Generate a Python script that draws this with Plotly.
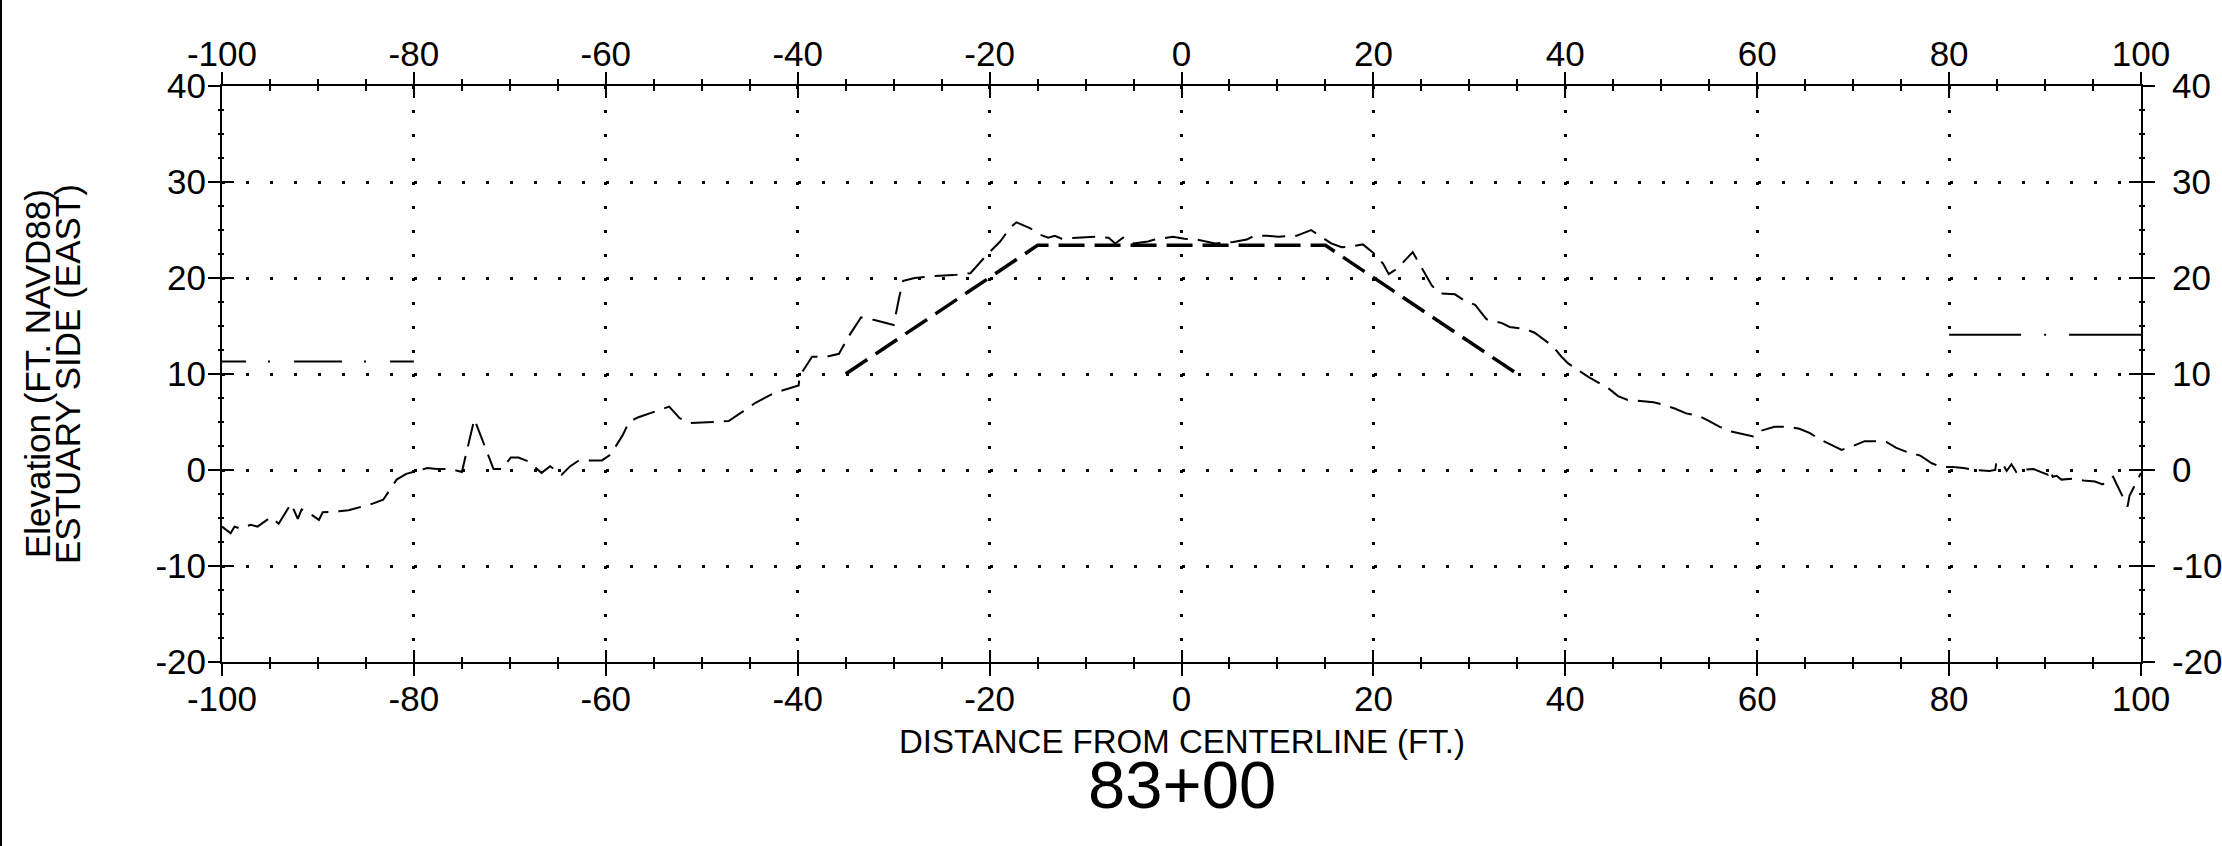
import plotly.graph_objects as go

# ---------------- data ----------------
ground_x = [
    -100, -99.1, -98.7, -98.1, -97.0, -96.3, -94.9, -94.1, -92.8, -92.1, -91.7, -90.9, -89.9, -89.5,
    -87.8, -86.8, -84.3, -83.2, -81.8, -80.8, -79.7, -78.6, -77.6, -76.2, -75.0, -73.7, -71.7, -70.8,
    -69.9, -69.1, -68.1, -66.7, -65.8, -64.6, -63.7, -62.8, -60.4,
    -59.5, -58.2, -57.6, -56.6, -55.5, -53.4, -52.3, -51.2, -48.8, -47.2, -45.7, -44.4, -42.5, -41.1,
    -39.9, -39.8, -39.1, -38.5, -37.0, -35.7, -34.7, -33.4, -31.9, -30.0, -29.4, -29.0, -27.8, -25.9,
    -23.8, -22.0, -20.3,
    -18.9, -17.8, -17.2, -15.8, -14.7, -13.9, -13.2, -12.5, -11.2, -8.9, -7.6, -6.9, -6.1, -5.0, -3.5,
    -2.8, -0.9, 0.3, 1.6, 3.5, 5.4, 6.8, 7.6, 8.9, 10.1, 12.0, 12.5, 13.5, 15.6, 16.7, 17.7, 18.9,
    20.0, 21.0, 21.6, 22.5, 24.1, 24.8, 26.1, 26.9, 28.5, 29.4, 30.6, 31.8, 33.4, 34.2, 35.8, 36.8,
    38.7, 39.6, 40.3, 41.2, 42.4, 44.5, 45.5, 46.5, 47.8, 49.2, 50.2, 51.4, 52.6, 54.0, 55.0, 56.1,
    57.3, 58.4, 59.6,
    60.1, 61.0, 61.8, 63.1, 64.4, 65.5, 66.5, 68.8, 70.0, 71.2, 72.3, 73.5, 74.5, 75.8, 77.0, 78.2,
    79.2, 80.4, 81.5, 82.8, 84.2, 84.8, 84.9, 85.5, 86.0, 86.5, 87.0, 87.5, 88.8, 89.8, 90.3, 90.5,
    90.8, 91.2, 91.7, 92.9, 94.0, 95.2, 96.0, 96.7, 97.1, 97.4, 98.6, 98.8, 99.5, 100,
]
ground_y = [
    -5.9, -6.6, -5.9, -6.1, -5.7, -5.9, -4.9, -5.6, -3.5, -5.1, -4.1, -4.5, -5.2, -4.4,
    -4.3, -4.2, -3.5, -3.1, -1.0, -0.4, -0.1, 0.2, 0.1, 0.1, -0.2, 5.3, 0.1, 0.1,
    1.3, 1.3, 0.9, -0.3, 0.4, -0.5, 0.4, 1.0, 1.0,
    1.6, 3.7, 5.0, 5.5, 5.9, 6.6, 5.4, 4.9, 5.0, 5.1, 6.1, 7.0, 8.0, 8.4,
    8.8, 9.8, 10.9, 11.8, 11.8, 12.1, 13.9, 15.9, 15.6, 15.1, 18.1, 19.7, 20.0, 20.2,
    20.3, 20.5, 22.4,
    23.8, 25.3, 25.8, 25.2, 24.5, 24.2, 24.4, 24.1, 24.2, 24.3, 24.2, 23.6, 24.2, 23.6, 23.8,
    24.0, 24.3, 24.1, 24.0, 23.6, 23.75, 24.0, 24.4, 24.4, 24.3, 24.4, 24.6, 25.0, 23.6, 23.2, 23.3, 23.5,
    22.6, 21.5, 20.4, 21.0, 22.7, 21.5, 19.2, 18.4, 18.3, 17.7, 17.2, 15.7, 15.3, 14.9, 14.7, 14.3,
    12.9, 11.8, 11.1, 10.5, 9.7, 8.5, 7.7, 7.3, 7.2, 7.05, 6.8, 6.4, 5.9, 5.6, 5.1, 4.5,
    4.0, 3.75, 3.5,
    4.0, 4.3, 4.5, 4.5, 4.3, 3.85, 3.2, 2.1, 2.5, 3.0, 3.0, 2.9, 2.3, 1.8, 1.5, 0.7,
    0.3, 0.3, 0.2, 0.0, -0.1, 0.0, 0.6, 0.8, -0.1, 0.6, -0.2, 0.0, 0.1, -0.3, -0.5, 0.0,
    -0.7, -0.6, -1.0, -0.9, -1.1, -1.2, -1.5, -1.0, -0.7, -1.35, -3.8, -2.7, -1.2, -0.3,
]
assert len(ground_x) == len(ground_y)

design_x = [-35, -15, 15, 35]
design_y = [10, 23.4, 23.4, 10]

water_left_x = [-100, -80]
water_left_y = [11.3, 11.3]
water_right_x = [80, 100]
water_right_y = [14.1, 14.1]

x_tick_vals = [-100, -80, -60, -40, -20, 0, 20, 40, 60, 80, 100]
x_tick_text = ["-100", "-80", "-60", "-40", "-20", "0", "20", "40", "60", "80", "100"]
y_tick_vals = [-20, -10, 0, 10, 20, 30, 40]
y_tick_text = ["-20", "-10", "0", "10", "20", "30", "40"]

x_title = "DISTANCE FROM CENTERLINE (FT.)"
y_title_line1 = "Elevation (FT. NAVD88)"
y_title_line2 = "ESTUARY SIDE (EAST)"
station = "83+00"

# ---------------- figure ----------------
FONT = "Liberation Sans, Arial, sans-serif"
W, H = 2222, 846
ML, MR, MT, MB = 222, 81, 86, 184
PW, PH = W - ML - MR, H - MT - MB


def py(pix):
    """paper y for a pixel row measured from the top of the figure"""
    return ((H - MB) - pix) / PH


def px(pix):
    """paper x for a pixel column measured from the left of the figure"""
    return (pix - ML) / PW


fig = go.Figure()

fig.add_trace(go.Scatter(
    x=ground_x, y=ground_y, mode="lines", showlegend=False, hoverinfo="skip",
    line=dict(color="black", width=2, dash="23px,10px"),
))
fig.add_trace(go.Scatter(
    x=design_x, y=design_y, mode="lines", showlegend=False, hoverinfo="skip",
    line=dict(color="black", width=3.5, dash="26px,10px"),
))
fig.add_trace(go.Scatter(
    x=water_left_x, y=water_left_y, mode="lines", showlegend=False, hoverinfo="skip",
    line=dict(color="black", width=2, dash="24px,22px,2px,24px,48px,22px,2px,24px,48px"),
))
fig.add_trace(go.Scatter(
    x=water_right_x, y=water_right_y, mode="lines", showlegend=False, hoverinfo="skip",
    line=dict(color="black", width=2, dash="72px,23px,2px,23px,72px"),
))
# invisible trace to activate the secondary (top/right) axes
fig.add_trace(go.Scatter(
    x=[0], y=[0], xaxis="x2", yaxis="y2", mode="markers", showlegend=False,
    hoverinfo="skip", marker=dict(opacity=0),
))

tickfont = dict(family=FONT, size=35, color="black")
common_x = dict(
    range=[-100, 100], tickvals=x_tick_vals, ticktext=x_tick_text, showline=True,
    linecolor="black", linewidth=2, tickcolor="black", tickwidth=2, ticklen=12,
    mirror="ticks", zeroline=False, tickfont=tickfont, fixedrange=True, automargin=False,
)
common_y = dict(
    range=[-20, 40], tickvals=y_tick_vals, ticktext=y_tick_text, showline=True,
    linecolor="black", linewidth=2, tickcolor="black", tickwidth=2, ticklen=12,
    mirror="ticks", zeroline=False, tickfont=tickfont, fixedrange=True, automargin=False,
)

fig.update_layout(
    width=W, height=H, autosize=False,
    margin=dict(l=ML, r=MR, t=MT, b=MB, pad=0, autoexpand=False),
    paper_bgcolor="white", plot_bgcolor="white",
    font=dict(family=FONT, color="black"),
    xaxis=dict(
        **common_x, side="bottom", ticks="outside",
        showgrid=True, gridcolor="black", gridwidth=2.5, griddash="2.5px,21.5px",
        minor=dict(dtick=5, tick0=0, ticks="outside", ticklen=5, tickwidth=2, tickcolor="black", showgrid=False),
        ticklabelstandoff=-7,
    ),
    xaxis2=dict(
        **common_x, side="top", overlaying="x", ticks="inside", showgrid=False,
        minor=dict(dtick=5, tick0=0, ticks="inside", ticklen=5, tickwidth=2, tickcolor="black", showgrid=False),
        ticklabelstandoff=4,
    ),
    yaxis=dict(
        **common_y, side="left", ticks="outside",
        showgrid=True, gridcolor="black", gridwidth=2.5, griddash="2.5px,21.5px",
        minor=dict(dtick=2.5, tick0=0, ticks="outside", ticklen=2, tickwidth=2, tickcolor="black", showgrid=False),
        ticklabelstandoff=-5,
    ),
    yaxis2=dict(
        **common_y, side="right", overlaying="y", ticks="inside", showgrid=False,
        minor=dict(dtick=2.5, tick0=0, ticks="inside", ticklen=2, tickwidth=2, tickcolor="black", showgrid=False),
        ticklabelstandoff=22,
    ),
    annotations=[
        dict(text=x_title, xref="paper", yref="paper", x=0.5, y=py(741),
             xanchor="center", yanchor="middle", showarrow=False,
             font=dict(family=FONT, size=33, color="black")),
        dict(text=station, xref="paper", yref="paper", x=0.5, y=py(784),
             xanchor="center", yanchor="middle", showarrow=False,
             font=dict(family=FONT, size=67, color="black")),
        dict(text=y_title_line1, xref="paper", yref="paper", x=px(37), y=0.5,
             xanchor="center", yanchor="middle", showarrow=False, textangle=-90,
             font=dict(family=FONT, size=35, color="black")),
        dict(text=y_title_line2, xref="paper", yref="paper", x=px(67), y=0.5,
             xanchor="center", yanchor="middle", showarrow=False, textangle=-90,
             font=dict(family=FONT, size=35, color="black")),
    ],
    shapes=[
        dict(type="line", xref="paper", yref="paper",
             x0=px(1), x1=px(1), y0=-MB / PH, y1=1 + MT / PH,
             line=dict(color="black", width=2)),
    ],
)

# remove the browser's default 8px page margin so the figure sits at the window origin
fig.write_html(
    "out.html",
    config={"displayModeBar": False},
    post_script="document.body.style.margin='0';",
)
